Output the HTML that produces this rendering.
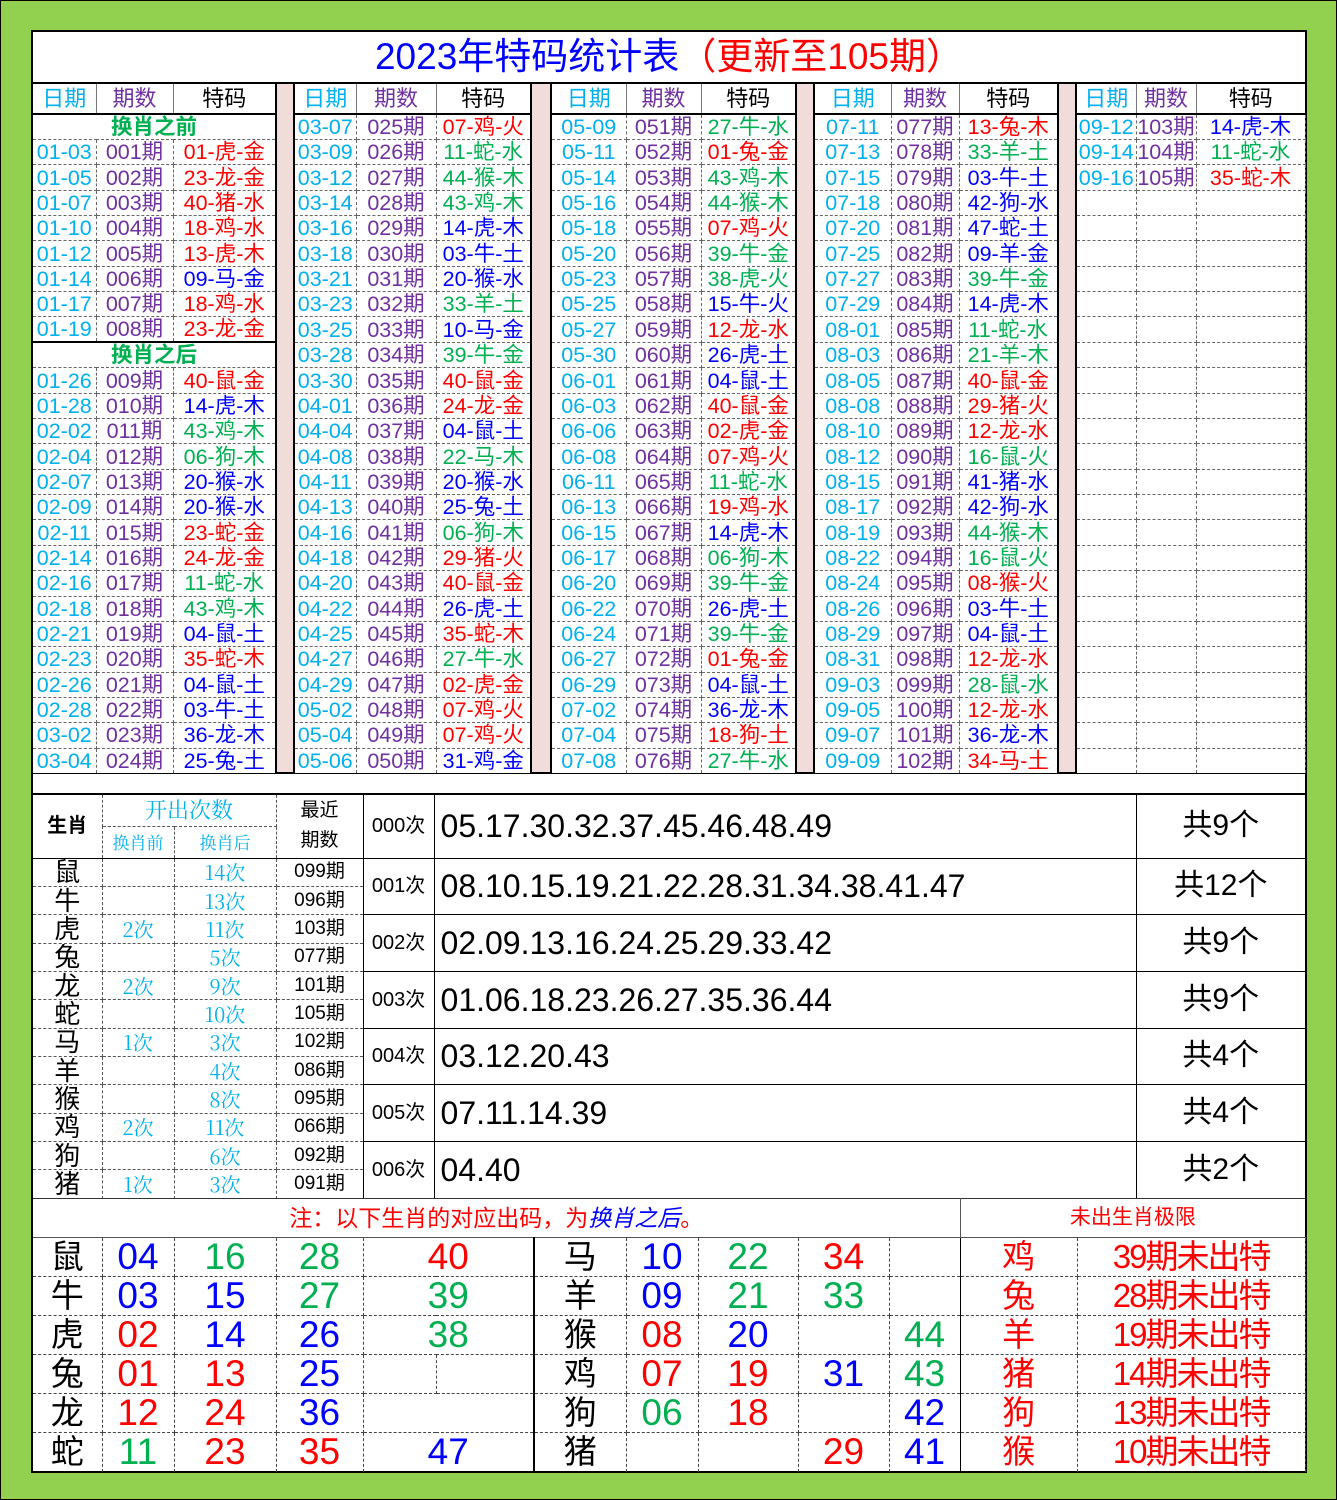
<!DOCTYPE html>
<html><head><meta charset="utf-8">
<style>
*{margin:0;padding:0;box-sizing:border-box}
body{width:1337px;height:1500px;background:#92d050;position:relative;overflow:hidden;font-family:"Liberation Sans","Noto Sans CJK SC",sans-serif;border:1px solid #000}
#wrap{position:absolute;left:30px;top:29px;width:1276px;height:1443px;background:#fff;border:2px solid #000}
#title{position:absolute;left:0;top:0;width:1272px;height:50px;text-align:center;font-size:37px;line-height:50px;color:#00f}
#title span{color:#f00}
table{border-collapse:collapse;table-layout:fixed;position:absolute}
td{padding:0;text-align:center;white-space:nowrap;overflow:hidden}
#t1{left:0;top:50px;width:1272px}
#t1 td{border:1px dashed #666;font-size:21.5px;height:25.35px;line-height:24px}
#t1 tr.h td{height:31px;font-size:22px;border-top:2px solid #000;border-bottom:2px solid #000;border-left:1px solid #777}
#t1 td.s{background:#f0dcda;border-left:2px solid #000;border-right:2px solid #000;border-top:2px solid #000;border-bottom:1px solid #000}
#t1 td.g0{border-left:2px solid #000}
#t1 td.g2{border-right:2px solid #000}
.d{color:#00b0f0}.p{color:#7030a0}.r{color:#f00}.b{color:#00f}.g{color:#00b050}.k{color:#000}
.m{color:#00b050;font-weight:bold}
#t1 tr:last-child td{border-bottom:1px solid #000}
#t2{left:0;top:761px;width:1272px;border-top:2px solid #000}
#t2 td{border:1px dashed #555;height:28.35px;line-height:26px}
#t2 td.z{font-size:26px;border-left:none;line-height:26px}
#t2 td.c{font-family:"Noto Serif CJK SC",serif;color:#00b0f0;font-size:20px}
#t2 td.q{font-size:19px}
#t2 td.n{font-size:20px;border:1px solid #000}
#t2 td.v{font-size:32px;text-align:left;padding-left:6px;border:1px solid #000}
#t2 td.t{font-size:30px;border:1px solid #000;border-right:none}
#t3{left:0;top:1166px;width:1272px}
#t3 td{border:1px dashed #444;height:39px;line-height:38px;font-size:37px}
#t3 td.note{border:1px solid #555;border-top:1px solid #333;font-size:23px;color:#f00;height:39px}
#t3 td.z{font-size:33px;color:#000;border-left:none}
#t3 td.zz{border-left:2px solid #000}
#t3 td.x{font-size:33px;color:#f00;border-left:1px solid #000}
#t3 td.y{font-size:33px;color:#f00;letter-spacing:-2px}
#t3 tr:last-child td{border-bottom:none}
</style></head><body>
<div id="wrap">
<div id="title">2023年特码统计表<span>（更新至105期）</span></div>
<table id="t1">
<colgroup><col style="width:63px"><col style="width:77px"><col style="width:103px"><col style="width:18px"><col style="width:62px"><col style="width:80px"><col style="width:95px"><col style="width:20px"><col style="width:75px"><col style="width:75px"><col style="width:95px"><col style="width:18px"><col style="width:77px"><col style="width:68px"><col style="width:99px"><col style="width:18px"><col style="width:60px"><col style="width:60px"><col style="width:109px"></colgroup>
<tr class="h"><td class="d g0" style="border-left:none">日期</td><td class="p">期数</td><td class="k g2">特码</td><td class="s" rowspan="27"></td><td class="d g0">日期</td><td class="p">期数</td><td class="k g2">特码</td><td class="s" rowspan="27"></td><td class="d g0">日期</td><td class="p">期数</td><td class="k g2">特码</td><td class="s" rowspan="27"></td><td class="d g0">日期</td><td class="p">期数</td><td class="k g2">特码</td><td class="s" rowspan="27"></td><td class="d g0">日期</td><td class="p">期数</td><td class="k" style="border-right:none">特码</td></tr>
<tr><td colspan="3" class="m g2" style="border-left:none">换肖之前</td><td class="d g0">03-07</td><td class="p">025期</td><td class="r g2">07-鸡-火</td><td class="d g0">05-09</td><td class="p">051期</td><td class="g g2">27-牛-水</td><td class="d g0">07-11</td><td class="p">077期</td><td class="r g2">13-兔-木</td><td class="d g0">09-12</td><td class="p">103期</td><td class="b">14-虎-木</td></tr>
<tr><td class="d" style="border-left:none">01-03</td><td class="p">001期</td><td class="r g2">01-虎-金</td><td class="d g0">03-09</td><td class="p">026期</td><td class="g g2">11-蛇-水</td><td class="d g0">05-11</td><td class="p">052期</td><td class="r g2">01-兔-金</td><td class="d g0">07-13</td><td class="p">078期</td><td class="g g2">33-羊-土</td><td class="d g0">09-14</td><td class="p">104期</td><td class="g">11-蛇-水</td></tr>
<tr><td class="d" style="border-left:none">01-05</td><td class="p">002期</td><td class="r g2">23-龙-金</td><td class="d g0">03-12</td><td class="p">027期</td><td class="g g2">44-猴-木</td><td class="d g0">05-14</td><td class="p">053期</td><td class="g g2">43-鸡-木</td><td class="d g0">07-15</td><td class="p">079期</td><td class="b g2">03-牛-土</td><td class="d g0">09-16</td><td class="p">105期</td><td class="r">35-蛇-木</td></tr>
<tr><td class="d" style="border-left:none">01-07</td><td class="p">003期</td><td class="r g2">40-猪-水</td><td class="d g0">03-14</td><td class="p">028期</td><td class="g g2">43-鸡-木</td><td class="d g0">05-16</td><td class="p">054期</td><td class="g g2">44-猴-木</td><td class="d g0">07-18</td><td class="p">080期</td><td class="b g2">42-狗-水</td><td class="g0"></td><td></td><td></td></tr>
<tr><td class="d" style="border-left:none">01-10</td><td class="p">004期</td><td class="r g2">18-鸡-水</td><td class="d g0">03-16</td><td class="p">029期</td><td class="b g2">14-虎-木</td><td class="d g0">05-18</td><td class="p">055期</td><td class="r g2">07-鸡-火</td><td class="d g0">07-20</td><td class="p">081期</td><td class="b g2">47-蛇-土</td><td class="g0"></td><td></td><td></td></tr>
<tr><td class="d" style="border-left:none">01-12</td><td class="p">005期</td><td class="r g2">13-虎-木</td><td class="d g0">03-18</td><td class="p">030期</td><td class="b g2">03-牛-土</td><td class="d g0">05-20</td><td class="p">056期</td><td class="g g2">39-牛-金</td><td class="d g0">07-25</td><td class="p">082期</td><td class="b g2">09-羊-金</td><td class="g0"></td><td></td><td></td></tr>
<tr><td class="d" style="border-left:none">01-14</td><td class="p">006期</td><td class="b g2">09-马-金</td><td class="d g0">03-21</td><td class="p">031期</td><td class="b g2">20-猴-水</td><td class="d g0">05-23</td><td class="p">057期</td><td class="g g2">38-虎-火</td><td class="d g0">07-27</td><td class="p">083期</td><td class="g g2">39-牛-金</td><td class="g0"></td><td></td><td></td></tr>
<tr><td class="d" style="border-left:none">01-17</td><td class="p">007期</td><td class="r g2">18-鸡-水</td><td class="d g0">03-23</td><td class="p">032期</td><td class="g g2">33-羊-土</td><td class="d g0">05-25</td><td class="p">058期</td><td class="b g2">15-牛-火</td><td class="d g0">07-29</td><td class="p">084期</td><td class="b g2">14-虎-木</td><td class="g0"></td><td></td><td></td></tr>
<tr><td class="d" style="border-left:none">01-19</td><td class="p">008期</td><td class="r g2">23-龙-金</td><td class="d g0">03-25</td><td class="p">033期</td><td class="b g2">10-马-金</td><td class="d g0">05-27</td><td class="p">059期</td><td class="r g2">12-龙-水</td><td class="d g0">08-01</td><td class="p">085期</td><td class="g g2">11-蛇-水</td><td class="g0"></td><td></td><td></td></tr>
<tr><td colspan="3" class="m g2" style="border-left:none;border-top:2px solid #000">换肖之后</td><td class="d g0">03-28</td><td class="p">034期</td><td class="g g2">39-牛-金</td><td class="d g0">05-30</td><td class="p">060期</td><td class="b g2">26-虎-土</td><td class="d g0">08-03</td><td class="p">086期</td><td class="g g2">21-羊-木</td><td class="g0"></td><td></td><td></td></tr>
<tr><td class="d" style="border-left:none">01-26</td><td class="p">009期</td><td class="r g2">40-鼠-金</td><td class="d g0">03-30</td><td class="p">035期</td><td class="r g2">40-鼠-金</td><td class="d g0">06-01</td><td class="p">061期</td><td class="b g2">04-鼠-土</td><td class="d g0">08-05</td><td class="p">087期</td><td class="r g2">40-鼠-金</td><td class="g0"></td><td></td><td></td></tr>
<tr><td class="d" style="border-left:none">01-28</td><td class="p">010期</td><td class="b g2">14-虎-木</td><td class="d g0">04-01</td><td class="p">036期</td><td class="r g2">24-龙-金</td><td class="d g0">06-03</td><td class="p">062期</td><td class="r g2">40-鼠-金</td><td class="d g0">08-08</td><td class="p">088期</td><td class="r g2">29-猪-火</td><td class="g0"></td><td></td><td></td></tr>
<tr><td class="d" style="border-left:none">02-02</td><td class="p">011期</td><td class="g g2">43-鸡-木</td><td class="d g0">04-04</td><td class="p">037期</td><td class="b g2">04-鼠-土</td><td class="d g0">06-06</td><td class="p">063期</td><td class="r g2">02-虎-金</td><td class="d g0">08-10</td><td class="p">089期</td><td class="r g2">12-龙-水</td><td class="g0"></td><td></td><td></td></tr>
<tr><td class="d" style="border-left:none">02-04</td><td class="p">012期</td><td class="g g2">06-狗-木</td><td class="d g0">04-08</td><td class="p">038期</td><td class="g g2">22-马-木</td><td class="d g0">06-08</td><td class="p">064期</td><td class="r g2">07-鸡-火</td><td class="d g0">08-12</td><td class="p">090期</td><td class="g g2">16-鼠-火</td><td class="g0"></td><td></td><td></td></tr>
<tr><td class="d" style="border-left:none">02-07</td><td class="p">013期</td><td class="b g2">20-猴-水</td><td class="d g0">04-11</td><td class="p">039期</td><td class="b g2">20-猴-水</td><td class="d g0">06-11</td><td class="p">065期</td><td class="g g2">11-蛇-水</td><td class="d g0">08-15</td><td class="p">091期</td><td class="b g2">41-猪-水</td><td class="g0"></td><td></td><td></td></tr>
<tr><td class="d" style="border-left:none">02-09</td><td class="p">014期</td><td class="b g2">20-猴-水</td><td class="d g0">04-13</td><td class="p">040期</td><td class="b g2">25-兔-土</td><td class="d g0">06-13</td><td class="p">066期</td><td class="r g2">19-鸡-水</td><td class="d g0">08-17</td><td class="p">092期</td><td class="b g2">42-狗-水</td><td class="g0"></td><td></td><td></td></tr>
<tr><td class="d" style="border-left:none">02-11</td><td class="p">015期</td><td class="r g2">23-蛇-金</td><td class="d g0">04-16</td><td class="p">041期</td><td class="g g2">06-狗-木</td><td class="d g0">06-15</td><td class="p">067期</td><td class="b g2">14-虎-木</td><td class="d g0">08-19</td><td class="p">093期</td><td class="g g2">44-猴-木</td><td class="g0"></td><td></td><td></td></tr>
<tr><td class="d" style="border-left:none">02-14</td><td class="p">016期</td><td class="r g2">24-龙-金</td><td class="d g0">04-18</td><td class="p">042期</td><td class="r g2">29-猪-火</td><td class="d g0">06-17</td><td class="p">068期</td><td class="g g2">06-狗-木</td><td class="d g0">08-22</td><td class="p">094期</td><td class="g g2">16-鼠-火</td><td class="g0"></td><td></td><td></td></tr>
<tr><td class="d" style="border-left:none">02-16</td><td class="p">017期</td><td class="g g2">11-蛇-水</td><td class="d g0">04-20</td><td class="p">043期</td><td class="r g2">40-鼠-金</td><td class="d g0">06-20</td><td class="p">069期</td><td class="g g2">39-牛-金</td><td class="d g0">08-24</td><td class="p">095期</td><td class="r g2">08-猴-火</td><td class="g0"></td><td></td><td></td></tr>
<tr><td class="d" style="border-left:none">02-18</td><td class="p">018期</td><td class="g g2">43-鸡-木</td><td class="d g0">04-22</td><td class="p">044期</td><td class="b g2">26-虎-土</td><td class="d g0">06-22</td><td class="p">070期</td><td class="b g2">26-虎-土</td><td class="d g0">08-26</td><td class="p">096期</td><td class="b g2">03-牛-土</td><td class="g0"></td><td></td><td></td></tr>
<tr><td class="d" style="border-left:none">02-21</td><td class="p">019期</td><td class="b g2">04-鼠-土</td><td class="d g0">04-25</td><td class="p">045期</td><td class="r g2">35-蛇-木</td><td class="d g0">06-24</td><td class="p">071期</td><td class="g g2">39-牛-金</td><td class="d g0">08-29</td><td class="p">097期</td><td class="b g2">04-鼠-土</td><td class="g0"></td><td></td><td></td></tr>
<tr><td class="d" style="border-left:none">02-23</td><td class="p">020期</td><td class="r g2">35-蛇-木</td><td class="d g0">04-27</td><td class="p">046期</td><td class="g g2">27-牛-水</td><td class="d g0">06-27</td><td class="p">072期</td><td class="r g2">01-兔-金</td><td class="d g0">08-31</td><td class="p">098期</td><td class="r g2">12-龙-水</td><td class="g0"></td><td></td><td></td></tr>
<tr><td class="d" style="border-left:none">02-26</td><td class="p">021期</td><td class="b g2">04-鼠-土</td><td class="d g0">04-29</td><td class="p">047期</td><td class="r g2">02-虎-金</td><td class="d g0">06-29</td><td class="p">073期</td><td class="b g2">04-鼠-土</td><td class="d g0">09-03</td><td class="p">099期</td><td class="g g2">28-鼠-水</td><td class="g0"></td><td></td><td></td></tr>
<tr><td class="d" style="border-left:none">02-28</td><td class="p">022期</td><td class="b g2">03-牛-土</td><td class="d g0">05-02</td><td class="p">048期</td><td class="r g2">07-鸡-火</td><td class="d g0">07-02</td><td class="p">074期</td><td class="b g2">36-龙-木</td><td class="d g0">09-05</td><td class="p">100期</td><td class="r g2">12-龙-水</td><td class="g0"></td><td></td><td></td></tr>
<tr><td class="d" style="border-left:none">03-02</td><td class="p">023期</td><td class="b g2">36-龙-木</td><td class="d g0">05-04</td><td class="p">049期</td><td class="r g2">07-鸡-火</td><td class="d g0">07-04</td><td class="p">075期</td><td class="r g2">18-狗-土</td><td class="d g0">09-07</td><td class="p">101期</td><td class="b g2">36-龙-木</td><td class="g0"></td><td></td><td></td></tr>
<tr><td class="d" style="border-left:none">03-04</td><td class="p">024期</td><td class="b g2">25-兔-土</td><td class="d g0">05-06</td><td class="p">050期</td><td class="b g2">31-鸡-金</td><td class="d g0">07-08</td><td class="p">076期</td><td class="g g2">27-牛-水</td><td class="d g0">09-09</td><td class="p">102期</td><td class="r g2">34-马-土</td><td class="g0"></td><td></td><td></td></tr>
</table>

<table id="t2">
<colgroup><col style="width:69px"><col style="width:72px"><col style="width:102px"><col style="width:87px"><col style="width:71px"><col style="width:702px"><col style="width:169px"></colgroup>
<tr><td rowspan="2" style="font-size:20px;font-weight:bold;border-left:none;border-top:none">生肖</td><td colspan="2" class="c" style="font-size:22px;height:32px;border-top:none">开出次数</td><td rowspan="2" class="q" style="line-height:30px;border-right:1px solid #000;border-top:none">最近<br>期数</td><td rowspan="2" class="n" style="border-top:none">000次</td><td rowspan="2" class="v" style="border-top:none">05.17.30.32.37.45.46.48.49</td><td rowspan="2" class="t" style="border-top:none">共9个</td></tr>
<tr><td class="c" style="font-size:17px;height:32px">换肖前</td><td class="c" style="font-size:17px">换肖后</td></tr>
<tr><td class="z" style="border-top:1px solid #000">鼠</td><td class="c" style="border-top:1px solid #000"></td><td class="c" style="border-top:1px solid #000">14次</td><td class="q" style="border-top:1px solid #000">099期</td><td rowspan="2" class="n">001次</td><td rowspan="2" class="v">08.10.15.19.21.22.28.31.34.38.41.47</td><td rowspan="2" class="t">共12个</td></tr>
<tr><td class="z">牛</td><td class="c"></td><td class="c">13次</td><td class="q">096期</td></tr>
<tr><td class="z">虎</td><td class="c">2次</td><td class="c">11次</td><td class="q">103期</td><td rowspan="2" class="n">002次</td><td rowspan="2" class="v">02.09.13.16.24.25.29.33.42</td><td rowspan="2" class="t">共9个</td></tr>
<tr><td class="z">兔</td><td class="c"></td><td class="c">5次</td><td class="q">077期</td></tr>
<tr><td class="z">龙</td><td class="c">2次</td><td class="c">9次</td><td class="q">101期</td><td rowspan="2" class="n">003次</td><td rowspan="2" class="v">01.06.18.23.26.27.35.36.44</td><td rowspan="2" class="t">共9个</td></tr>
<tr><td class="z">蛇</td><td class="c"></td><td class="c">10次</td><td class="q">105期</td></tr>
<tr><td class="z">马</td><td class="c">1次</td><td class="c">3次</td><td class="q">102期</td><td rowspan="2" class="n">004次</td><td rowspan="2" class="v">03.12.20.43</td><td rowspan="2" class="t">共4个</td></tr>
<tr><td class="z">羊</td><td class="c"></td><td class="c">4次</td><td class="q">086期</td></tr>
<tr><td class="z">猴</td><td class="c"></td><td class="c">8次</td><td class="q">095期</td><td rowspan="2" class="n">005次</td><td rowspan="2" class="v">07.11.14.39</td><td rowspan="2" class="t">共4个</td></tr>
<tr><td class="z">鸡</td><td class="c">2次</td><td class="c">11次</td><td class="q">066期</td></tr>
<tr><td class="z">狗</td><td class="c"></td><td class="c">6次</td><td class="q">092期</td><td rowspan="2" class="n">006次</td><td rowspan="2" class="v">04.40</td><td rowspan="2" class="t">共2个</td></tr>
<tr><td class="z">猪</td><td class="c">1次</td><td class="c">3次</td><td class="q">091期</td></tr>
</table>

<table id="t3">
<colgroup><col style="width:69px"><col style="width:72px"><col style="width:102px"><col style="width:87px"><col style="width:73px"><col style="width:98px"><col style="width:92px"><col style="width:72px"><col style="width:100px"><col style="width:91px"><col style="width:71px"><col style="width:117px"><col style="width:228px"></colgroup>
<tr><td colspan="11" class="note" style="border-left:none">注：以下生肖的对应出码，为<i style="color:#00f">换肖之后</i>。</td><td colspan="2" class="note" style="font-size:21px;border-right:none">未出生肖极限</td></tr>
<tr><td class="z">鼠</td><td class="b">04</td><td class="g">16</td><td class="g">28</td><td colspan="2" class="r">40</td><td class="z zz">马</td><td class="b">10</td><td class="g">22</td><td class="r">34</td><td></td><td class="x">鸡</td><td class="y">39期未出特</td></tr>
<tr><td class="z">牛</td><td class="b">03</td><td class="b">15</td><td class="g">27</td><td colspan="2" class="g">39</td><td class="z zz">羊</td><td class="b">09</td><td class="g">21</td><td class="g">33</td><td></td><td class="x">兔</td><td class="y">28期未出特</td></tr>
<tr><td class="z">虎</td><td class="r">02</td><td class="b">14</td><td class="b">26</td><td colspan="2" class="g">38</td><td class="z zz">猴</td><td class="r">08</td><td class="b">20</td><td></td><td class="g">44</td><td class="x">羊</td><td class="y">19期未出特</td></tr>
<tr><td class="z">兔</td><td class="r">01</td><td class="r">13</td><td class="b">25</td><td></td><td></td><td class="z zz">鸡</td><td class="r">07</td><td class="r">19</td><td class="b">31</td><td class="g">43</td><td class="x">猪</td><td class="y">14期未出特</td></tr>
<tr><td class="z">龙</td><td class="r">12</td><td class="r">24</td><td class="b">36</td><td colspan="2"></td><td class="z zz">狗</td><td class="g">06</td><td class="r">18</td><td></td><td class="b">42</td><td class="x">狗</td><td class="y">13期未出特</td></tr>
<tr><td class="z">蛇</td><td class="g">11</td><td class="r">23</td><td class="r">35</td><td colspan="2" class="b">47</td><td class="z zz">猪</td><td></td><td></td><td class="r">29</td><td class="b">41</td><td class="x">猴</td><td class="y">10期未出特</td></tr>
</table>
</div>
</body></html>
